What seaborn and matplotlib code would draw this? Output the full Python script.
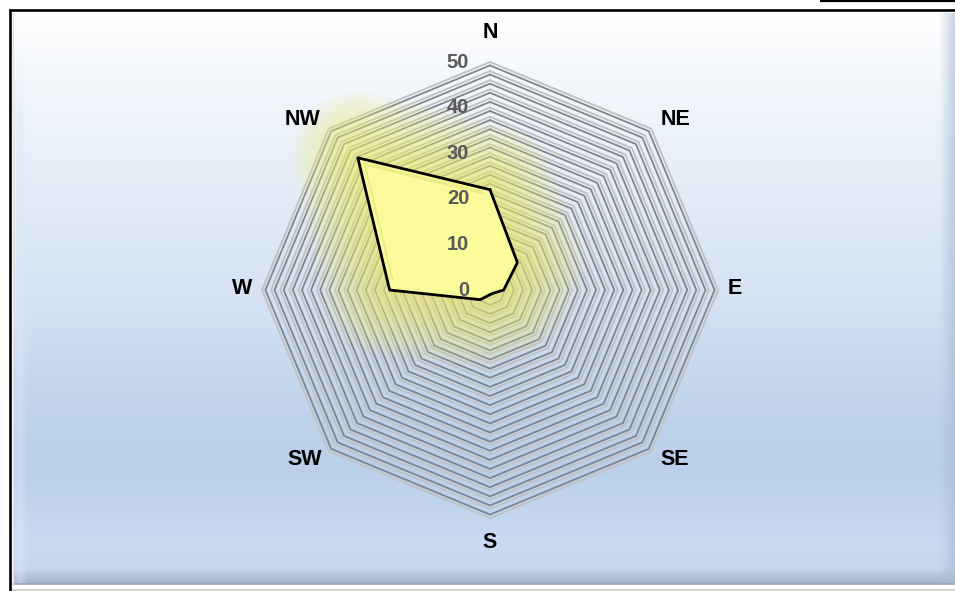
import numpy as np
import pandas as pd
import matplotlib
matplotlib.use('Agg')
import matplotlib.pyplot as plt
import matplotlib.colors as mcolors
import matplotlib.transforms as mtransforms
import seaborn as sns

# ---------------- data ----------------
directions = ['N', 'NE', 'E', 'SE', 'S', 'SW', 'W', 'NW']
values = [22, 8.5, 3, 1, 1, 3, 22, 41]
tick_values = [0, 10, 20, 30, 40, 50]
grid_levels = list(range(2, 51, 2))
r_max = 50

sns.set_theme(style='white')
plt.rcParams['font.family'] = ['Liberation Sans', 'DejaVu Sans']

W, H = 955, 591
fig = plt.figure(figsize=(9.55, 5.91), dpi=100)
fig.patch.set_facecolor('white')

# ---------------- background panel ----------------
bg = fig.add_axes([0, 0, 1, 1])
bg.set_xlim(0, W)
bg.set_ylim(H, 0)
bg.axis('off')

stops_y = [12, 80, 200, 300, 420, 470, 545, 568, 574, 583]
stops_c = ['#FFFFFF', '#F3F7FC', '#E3ECF7', '#D5E2F2', '#BED2EA', '#BBCFE9',
           '#CADBF2', '#C6D6EC', '#B8C7DD', '#A4B3C8']
rgb = np.array([mcolors.to_rgb(c) for c in stops_c])
ys = np.arange(H) + 0.5
col = np.stack([np.interp(ys, stops_y, rgb[:, k]) for k in range(3)], axis=1)
img = np.repeat(col[:, None, :], W, axis=1)
xs = np.arange(W) + 0.5
rb = np.clip((xs - 938) / 17, 0, 1)[None, :, None]
dark = np.array(mcolors.to_rgb('#A9BBD3'))[None, None, :]
img = img * (1 - 0.7 * rb) + dark * 0.7 * rb
lb = np.clip(1 - np.abs(xs - 20) / 8, 0, 1)[None, :, None] * np.clip((ys - 40) / 80, 0, 1)[:, None, None]
light = np.array(mcolors.to_rgb('#DCE9F9'))[None, None, :]
img = img * (1 - 0.5 * lb) + light * 0.5 * lb
img[:13, :, :] = 1
img[:, :13, :] = 1
img[584:, :, :] = 1
bg.imshow(img, extent=(0, W, H, 0), aspect='auto', interpolation='bilinear', zorder=0)

bg.plot([9.5, 9.5], [9, H], color='black', lw=1.9, solid_capstyle='butt', zorder=2)
bg.plot([8.5, W], [10.0, 10.0], color='black', lw=1.9, solid_capstyle='butt', zorder=2)
bg.plot([820, W], [1.2, 1.2], color='black', lw=1.6, solid_capstyle='butt', zorder=2)
bg.plot([13, W], [583.5, 583.5], color='#9AA6B8', lw=1.2, zorder=2)
bg.plot([13, W], [589.5, 589.5], color='#D4D4D4', lw=1.6, zorder=2)
bg.plot([13, 13], [13, 584], color='#E2E2E2', lw=1.0, zorder=2)

# ---------------- radar (polar axes) ----------------
cx, cy, rad = 490, 290, 228
ax = fig.add_axes([(cx - rad) / W, (H - cy - rad) / H, 2 * rad / W, 2 * rad / H], projection='polar')
ax.patch.set_alpha(0)
ax.set_theta_zero_location('N')
ax.set_theta_direction(-1)

theta = np.deg2rad(np.arange(0, 360, 45))
df = pd.DataFrame({'direction': directions, 'theta': theta, 'value': values})
closed = pd.concat([df, df.iloc[[0]]], ignore_index=True)
theta_c = closed['theta'].to_numpy()

for r in grid_levels:
    ax.plot(theta_c, [r] * len(theta_c), color='#C2C2C2', lw=1.4, zorder=1, clip_on=False)
    ax.plot(theta_c, [r - 0.75] * len(theta_c), color='#7E858F', lw=1.3, zorder=1, clip_on=False)

# soft yellow glow
for lw_ in np.linspace(95, 8, 14):
    ax.plot(theta_c, closed['value'], color='#F3EF6C', lw=lw_, alpha=0.07,
            solid_joinstyle='round', zorder=2, clip_on=False)
ax.fill(theta_c, closed['value'], color='#F3EF6C', alpha=0.25, zorder=2, clip_on=False)

# polygon with a subtle bevel
poly = ax.fill(theta_c, closed['value'], color='#FCFB9C', zorder=3, clip_on=False)[0]
bev = ax.plot(theta_c, closed['value'], color='#E2DD78', lw=9, alpha=0.55,
              solid_joinstyle='miter', zorder=4)[0]
bev.set_clip_path(poly)
shadow_tr = mtransforms.offset_copy(ax.transData, fig=fig, x=-3, y=4, units='dots')
sh = ax.plot(theta_c, closed['value'], color='#FCFB9C', lw=9, alpha=0.9,
             solid_joinstyle='miter', zorder=4, transform=shadow_tr)[0]
sh.set_clip_path(poly)
sns.lineplot(data=closed, x='theta', y='value', sort=False, ax=ax, color='black',
             lw=2.0, zorder=5, estimator=None)

ax.set_ylim(0, r_max)
ax.grid(False)
ax.set_xticks([])
ax.set_yticks([])
ax.set_xlabel('')
ax.set_ylabel('')
ax.spines['polar'].set_visible(False)

# category labels (offset in pixels from the outer vertex)
label_off = [(0, 29), (24, 9), (17, 2), (23, -8), (0, -25), (-24, -8), (-20, 2), (-26, 9)]
for t, lab, off in zip(theta, directions, label_off):
    ax.annotate(lab, xy=(t, r_max), xytext=off, textcoords='offset pixels',
                ha='center', va='center', fontsize=15.5, fontweight='bold',
                color='black', zorder=6, annotation_clip=False)

# value tick labels
for v in tick_values:
    ax.annotate(str(v), xy=(0, v), xytext=(-15, 0), textcoords='offset points',
                ha='right', va='center', fontsize=14.5, fontweight='bold', color='#595959',
                zorder=6, annotation_clip=False)

fig.savefig('out.png', dpi=100)
